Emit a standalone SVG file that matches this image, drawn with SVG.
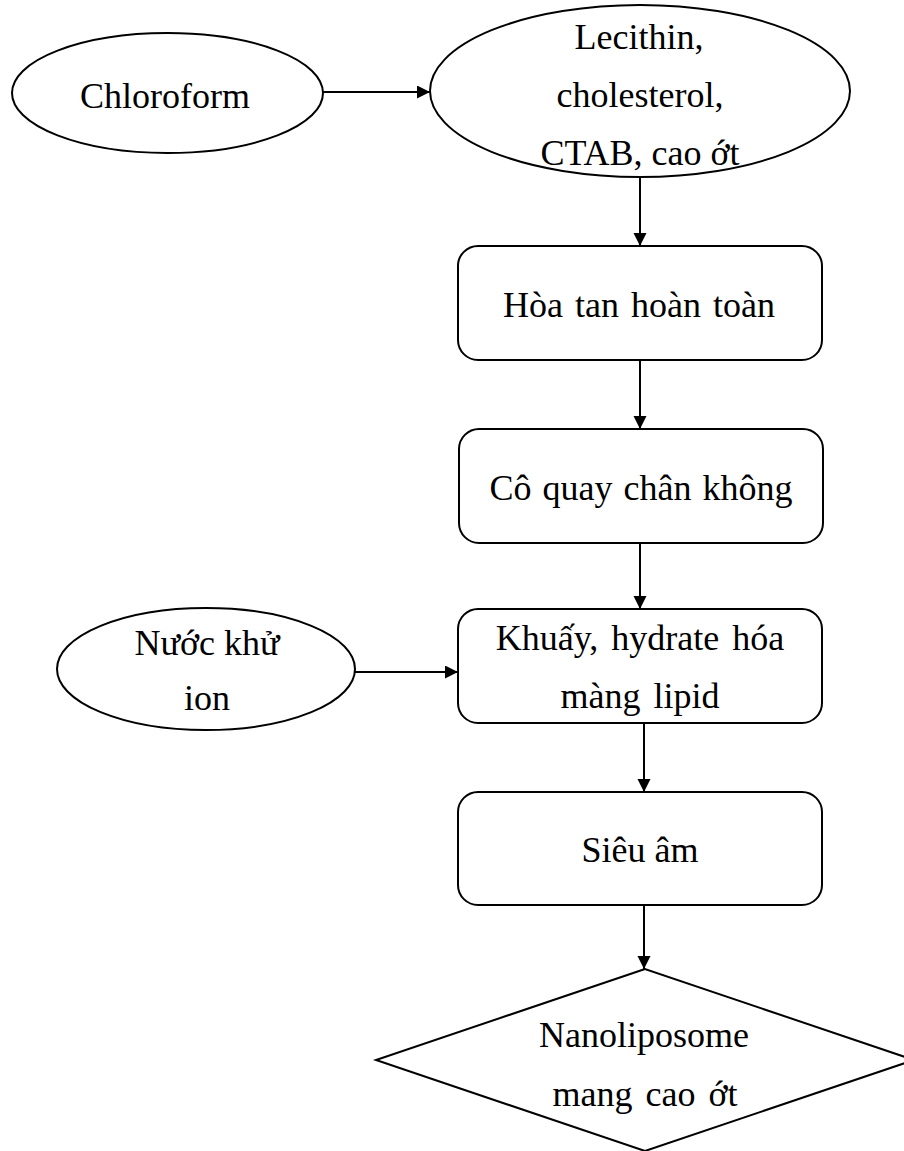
<svg xmlns="http://www.w3.org/2000/svg" width="904" height="1151" viewBox="0 0 904 1151">
<defs>
<style>
.shape{fill:#fff;stroke:#000;stroke-width:2}
.lbl{font-family:"Liberation Serif","Times New Roman",serif;font-size:36px;fill:#000;text-anchor:middle}
.conn{stroke:#000;stroke-width:2;fill:none;marker-end:url(#arr)}
</style>
<marker id="arr" markerUnits="userSpaceOnUse" markerWidth="14" markerHeight="14" refX="13" refY="6.5" orient="auto">
<path d="M0,0 L13,6.5 L0,13 z" fill="#000"/>
</marker>
</defs>
<rect width="904" height="1151" fill="#fff"/>
<g id="connectors">
<line class="conn" x1="323" y1="92" x2="430" y2="92"/>
<line class="conn" x1="640" y1="178" x2="640" y2="246"/>
<line class="conn" x1="640" y1="360" x2="640" y2="429"/>
<line class="conn" x1="640" y1="543" x2="640" y2="609"/>
<line class="conn" x1="355" y1="672" x2="458" y2="672"/>
<line class="conn" x1="644" y1="723" x2="644" y2="792"/>
<line class="conn" x1="644" y1="905" x2="644" y2="969"/>
</g>
<g id="chloroform">
<ellipse class="shape" cx="167.5" cy="93" rx="155.5" ry="60"/>
<text class="lbl" x="165" y="108">Chloroform</text>
</g>
<g id="lecithin">
<ellipse class="shape" cx="640" cy="91" rx="210" ry="86"/>
<text class="lbl" x="639" y="49">Lecithin,</text>
<text class="lbl" x="640" y="107">cholesterol,</text>
<text class="lbl" x="640" y="165">CTAB, cao ớt</text>
</g>
<g id="hoatan">
<rect class="shape" x="458" y="246" width="364" height="114" rx="20"/>
<text class="lbl" x="639" y="317" word-spacing="3">Hòa tan hoàn toàn</text>
</g>
<g id="coquay">
<rect class="shape" x="459" y="429" width="364" height="114" rx="20"/>
<text class="lbl" x="641" y="500" word-spacing="2">Cô quay chân không</text>
</g>
<g id="nuoc">
<ellipse class="shape" cx="206" cy="669" rx="149" ry="61"/>
<text class="lbl" x="207" y="655">Nước khử</text>
<text class="lbl" x="207" y="710">ion</text>
</g>
<g id="khuay">
<rect class="shape" x="458" y="609" width="364" height="114" rx="20"/>
<text class="lbl" x="640" y="650" word-spacing="4">Khuấy, hydrate hóa</text>
<text class="lbl" x="640" y="708" word-spacing="4">màng lipid</text>
</g>
<g id="sieuam">
<rect class="shape" x="458" y="792" width="364" height="113" rx="20"/>
<text class="lbl" x="640" y="862">Siêu âm</text>
</g>
<g id="nanoliposome">
<polygon class="shape" points="645,969 376,1060 645,1151 914,1060"/>
<text class="lbl" x="644" y="1047">Nanoliposome</text>
<text class="lbl" x="645" y="1106" word-spacing="4">mang cao ớt</text>
</g>
</svg>
